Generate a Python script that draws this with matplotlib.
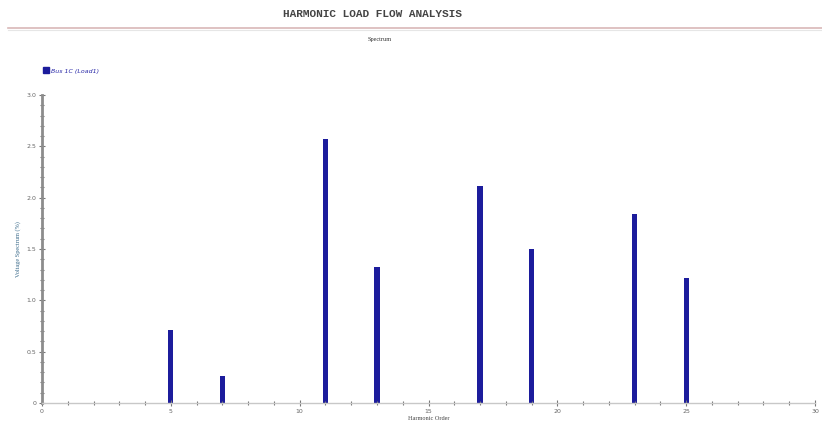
import matplotlib
matplotlib.use("Agg")
import matplotlib.pyplot as plt
from matplotlib.lines import Line2D
import numpy as np

# harmonic spectrum
harmonic_order = [5, 7, 11, 13, 17, 19, 23, 25]
voltage_pct = [0.71, 0.26, 2.57, 1.32, 2.11, 1.50, 1.84, 1.22]
series_name = "Bus 1C (Load1)"

x_ticks = [0, 5, 10, 15, 20, 25, 30]
y_ticks = [0, 0.5, 1.0, 1.5, 2.0, 2.5, 3.0]
y_labels = ["0", "0.5", "1.0", "1.5", "2.0", "2.5", "3.0"]

bar_color = "#1c1c9c"

fig = plt.figure(figsize=(8.22, 4.23), dpi=100)
fig.patch.set_facecolor("white")

# header
fig.text(372 / 822, 1 - 14 / 423, "HARMONIC LOAD FLOW ANALYSIS", ha="center", va="center",
         family="Liberation Mono", fontweight="bold", fontsize=8, color="#444444")
fig.add_artist(Line2D([8 / 822, 1.0], [1 - 28 / 423] * 2, color="#d9b8b8", lw=1.2))
fig.add_artist(Line2D([8 / 822, 1.0], [1 - 30 / 423] * 2, color="#e6e6e6", lw=0.8))
fig.text(380 / 822, 1 - 39 / 423, "Spectrum", ha="center", va="center",
         family="Liberation Serif", fontsize=4.5, color="#333333")

ax = fig.add_axes([42 / 822, 20 / 423, 773 / 822, 308 / 423])
ax.bar(harmonic_order, voltage_pct, width=0.2, color=bar_color, label=series_name)

ax.set_xlim(0, 30)
ax.set_ylim(0, 3.0)
ax.set_xticks(x_ticks)
ax.set_xticklabels([str(v) for v in x_ticks])
ax.set_xticks(np.arange(0, 31, 1), minor=True)
ax.set_yticks(y_ticks)
ax.set_yticklabels(y_labels)
ax.set_yticks(np.arange(0, 3.01, 0.1), minor=True)

for s in ["top", "right"]:
    ax.spines[s].set_visible(False)
ax.spines["left"].set_color("#8c8c8c")
ax.spines["left"].set_linewidth(2.0)
ax.spines["bottom"].set_color("#c8c8c8")
ax.spines["bottom"].set_linewidth(1.0)

ax.tick_params(axis="both", which="both", direction="inout", colors="#777777",
               labelsize=4.5, labelcolor="#666666", pad=2)
ax.tick_params(axis="both", which="major", length=4, width=0.8)
ax.tick_params(axis="both", which="minor", length=2.5, width=0.8)

ax.set_xlabel("Harmonic Order", fontsize=4.5, color="#444444", family="Liberation Serif", labelpad=2)
ax.set_ylabel("Voltage Spectrum (%)", fontsize=4.5, color="#3a6a8a", family="Liberation Serif", labelpad=4)

leg = fig.legend(handles=[Line2D([], [], marker="s", ls="none", color=bar_color, markersize=5)],
                 labels=[series_name], loc="center left", bbox_to_anchor=(40 / 822, 1 - 71 / 423),
                 frameon=False, fontsize=4.5, handletextpad=0.4, borderpad=0, handlelength=0.8)
for t in leg.get_texts():
    t.set_color("#2a2aa8")
    t.set_style("italic")

fig.savefig("out.png", dpi=100)
